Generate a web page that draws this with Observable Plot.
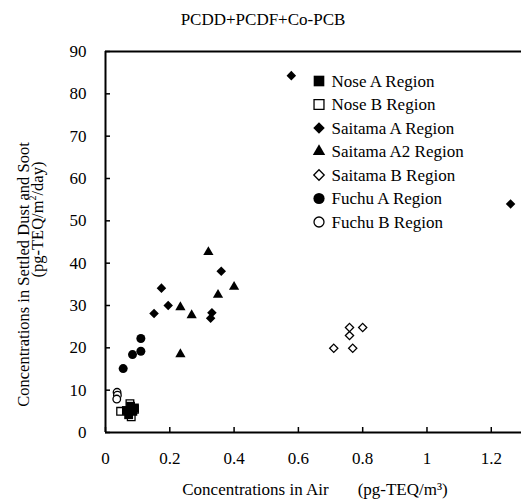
<!DOCTYPE html>
<html><head><meta charset="utf-8">
<script src="https://cdn.jsdelivr.net/npm/d3@7"></script>
<script src="https://cdn.jsdelivr.net/npm/@observablehq/plot@0.6"></script>
<style>
body{margin:0;background:#fff;}
#wrap{position:relative;width:521px;height:503px;font-family:"Liberation Serif","Times New Roman",serif;color:#000;overflow:hidden;}
#wrap svg.plot{position:absolute;left:0;top:0;}
.ov{position:absolute;white-space:pre;font-size:17px;line-height:17px;}
</style></head><body><div id="wrap"></div>
<script>
// ---- data ----
const titleText = "PCDD+PCDF+Co-PCB";
const xTicks = [0, 0.2, 0.4, 0.6, 0.8, 1, 1.2];
const xTickLabels = ["0", "0.2", "0.4", "0.6", "0.8", "1", "1.2"];
const yTicks = [0, 10, 20, 30, 40, 50, 60, 70, 80, 90];

const noseA_x = [0.065, 0.072, 0.085, 0.078, 0.090];
const noseA_y = [5.2, 4.2, 5.0, 6.2, 5.8];
const noseB_x = [0.047, 0.076, 0.080, 0.090];
const noseB_y = [5.0, 6.8, 3.7, 5.5];
const saitamaA_x = [0.151, 0.174, 0.195, 0.327, 0.331, 0.360, 0.578, 1.260];
const saitamaA_y = [28.1, 34.1, 30.0, 27.0, 28.3, 38.1, 84.3, 54.0];
const saitamaA2_x = [0.233, 0.233, 0.268, 0.320, 0.350, 0.400];
const saitamaA2_y = [18.5, 29.6, 27.7, 42.6, 32.5, 34.4];
const saitamaB_x = [0.710, 0.759, 0.759, 0.769, 0.800];
const saitamaB_y = [19.9, 22.9, 24.8, 19.9, 24.8];
const fuchuA_x = [0.055, 0.084, 0.110, 0.110];
const fuchuA_y = [15.1, 18.4, 19.2, 22.2];
const fuchuB_x = [0.036, 0.037, 0.035];
const fuchuB_y = [9.5, 8.8, 7.9];

const seriesNames = ["Nose A Region", "Nose B Region", "Saitama A Region", "Saitama A2 Region", "Saitama B Region", "Fuchu A Region", "Fuchu B Region"];

// ---- styles ----
const styles = {
  "Nose A Region":     {xs: noseA_x, ys: noseA_y, symbol: "square", fill: "black", stroke: "none", r: 5.0, lr: 6.0},
  "Nose B Region":     {xs: noseB_x, ys: noseB_y, symbol: "square", fill: "white", stroke: "black", r: 4.3, lr: 5.6},
  "Saitama A Region":  {xs: saitamaA_x, ys: saitamaA_y, symbol: "diamond2", fill: "black", stroke: "none", r: 4.3, lr: 5.2},
  "Saitama A2 Region": {xs: saitamaA2_x, ys: saitamaA2_y, symbol: "triangle", fill: "black", stroke: "none", r: 3.8, lr: 4.6},
  "Saitama B Region":  {xs: saitamaB_x, ys: saitamaB_y, symbol: "diamond2", fill: "white", stroke: "black", r: 3.7, lr: 4.7},
  "Fuchu A Region":    {xs: fuchuA_x, ys: fuchuA_y, symbol: "circle", fill: "black", stroke: "none", r: 4.5, lr: 5.6},
  "Fuchu B Region":    {xs: fuchuB_x, ys: fuchuB_y, symbol: "circle", fill: "white", stroke: "black", r: 3.8, lr: 5.0}
};
const drawOrder = ["Nose B Region", "Nose A Region", "Saitama A Region", "Saitama A2 Region", "Saitama B Region", "Fuchu A Region", "Fuchu B Region"];

const W = 521, H = 503;
const wrap = document.getElementById("wrap");
const serif = '"Liberation Serif","Times New Roman",serif';

const dotMarks = drawOrder.map(name => {
  const s = styles[name];
  const data = s.xs.map((x, i) => ({x, y: s.ys[i]}));
  return Plot.dot(data, {x: "x", y: "y", symbol: s.symbol, fill: s.fill, stroke: s.stroke, strokeWidth: 1.3, r: s.r});
});

const chart = Plot.plot({
  width: W, height: H,
  marginLeft: 105, marginRight: 0, marginTop: 51, marginBottom: 71,
  style: {fontFamily: serif, fontSize: "17px", color: "black", background: "white", overflow: "visible"},
  x: {domain: [0, 1.294], label: null},
  y: {domain: [0, 90], label: null},
  marks: [
    Plot.axisX({ticks: xTicks, tickSize: -5, tickPadding: 24, strokeWidth: 1.5, tickFormat: d => xTickLabels[xTicks.indexOf(d)], label: null, fontSize: 17}),
    Plot.axisY({ticks: yTicks, tickSize: -5, tickPadding: 24, strokeWidth: 1.5, label: null, fontSize: 17}),
    Plot.ruleY([0, 90], {stroke: "black", strokeWidth: 2}),
    Plot.ruleX([0], {stroke: "black", strokeWidth: 2}),
    ...dotMarks
  ]
});
chart.classList.add("plot");
wrap.appendChild(chart);

// title
const t = document.createElement("div");
t.className = "ov";
t.style.left = "0px"; t.style.width = "526px"; t.style.textAlign = "center"; t.style.top = "10.75px";
t.textContent = titleText;
wrap.appendChild(t);

// x label
const xl = document.createElement("div");
xl.className = "ov";
xl.style.left = "105px"; xl.style.width = "420px"; xl.style.textAlign = "center"; xl.style.top = "480.75px";
xl.innerHTML = 'Concentrations in Air<span style="margin-left:29px">(pg-TEQ/m³)</span>';
wrap.appendChild(xl);

// y label: two separately placed rotated lines
function rotLine(html, cx, cy) {
  const d = document.createElement("div");
  d.className = "ov";
  const w = 420, h = 17;
  d.style.fontSize = "16.5px";
  d.style.left = (cx - w / 2) + "px"; d.style.top = (cy - h / 2) + "px";
  d.style.width = w + "px"; d.style.height = h + "px";
  d.style.textAlign = "center"; d.style.transform = "rotate(-90deg)";
  d.innerHTML = html;
  wrap.appendChild(d);
}
rotLine("Concentrations in Settled Dust and Soot", 22.9, 274);
rotLine('(pg-TEQ/m<sup style="font-size:10px;line-height:0">2</sup>/day)', 36.9, 219);

// legend
const symMap = {square: d3.symbolSquare, diamond2: d3.symbolDiamond2, triangle: d3.symbolTriangle, circle: d3.symbolCircle};
const lg = d3.select(wrap).append("svg")
  .attr("width", W).attr("height", H)
  .style("position", "absolute").style("left", "0px").style("top", "0px")
  .style("font-family", serif).style("font-size", "17px");
seriesNames.forEach((name, i) => {
  const s = styles[name];
  const yc = 81 + 23.5 * i;
  lg.append("path")
    .attr("d", d3.symbol(symMap[s.symbol], Math.PI * s.lr * s.lr)())
    .attr("transform", `translate(319,${yc})`)
    .attr("fill", s.fill).attr("stroke", s.stroke).attr("stroke-width", 1.3);
  lg.append("text").attr("x", 331.5).attr("y", yc + 5.7).text(name);
});
</script>
</body></html>
